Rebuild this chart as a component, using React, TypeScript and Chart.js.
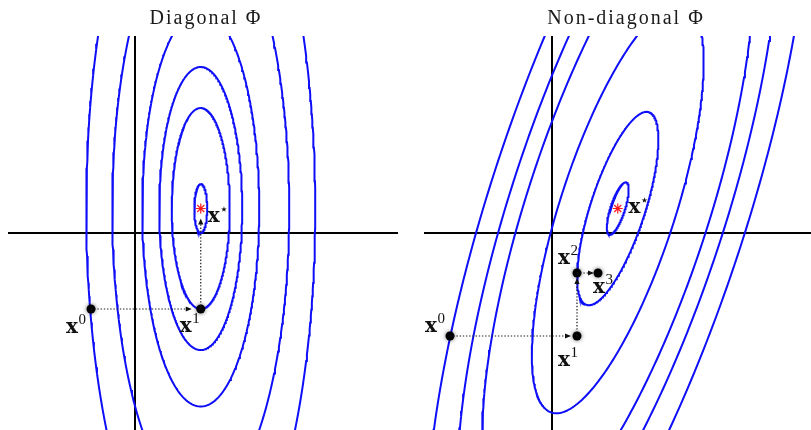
import React, { useEffect, useRef } from "react";
import { Chart, registerables } from "chart.js";

Chart.register(...registerables);

// Minimiser of the quadratic objective (shared by both panels)
const MINIMIZER = [2.63, 0.98];

// Level sets as ellipses: semi-axes in axis units, tilt of the major axis in degrees
const LEFT_SEMI_MAJOR = [0.98, 4.02, 5.66, 7.92, 11.8, 15.6];
const LEFT_SEMI_MINOR = [0.26, 1.16, 1.66, 2.34, 3.54, 4.58];
const LEFT_TILT_DEG = 90;

const RIGHT_SEMI_MAJOR = [1.1, 4.05, 8.58, 13.52, 16.0, 19.1];
const RIGHT_SEMI_MINOR = [0.29, 1.09, 2.3, 3.64, 4.3, 5.14];
const RIGHT_TILT_DEG = 72;

// Coordinate-descent iterates x^0, x^1, ...
const LEFT_ITER_X = [-1.76, 2.63];
const LEFT_ITER_Y = [-3.04, -3.04];
const RIGHT_ITER_X = [-4.08, 1.0, 1.0, 1.84];
const RIGHT_ITER_Y = [-4.12, -4.12, -1.6, -1.6];

const TITLES = ["Diagonal \u03A6", "Non-diagonal \u03A6"];

const CONTOUR_BLUE = "rgb(14,14,248)";

type Label = { sup: string; anchor: number; dx: number; dy: number };

type Panel = {
  title: string;
  titleX: number;
  left: number;
  width: number;
  padLeft: number;
  padRight: number;
  xMin: number;
  xMax: number;
  yMin: number;
  yMax: number;
  major: number[];
  minor: number[];
  tilt: number;
  iterX: number[];
  iterY: number[];
  pathX: number[];
  pathY: number[];
  shorten: number[];
  labels: Label[];
};

function ellipse(cx: number, cy: number, a: number, b: number, deg: number, n = 360) {
  const th = (deg * Math.PI) / 180;
  const c = Math.cos(th);
  const s = Math.sin(th);
  const pts: { x: number; y: number }[] = [];
  for (let i = 0; i <= n; i++) {
    const t = (2 * Math.PI * i) / n;
    const u = a * Math.cos(t);
    const v = b * Math.sin(t);
    pts.push({ x: cx + u * c - v * s, y: cy + u * s + v * c });
  }
  return pts;
}

const PANELS: Panel[] = [
  {
    title: TITLES[0],
    titleX: 206,
    left: 0,
    width: 405,
    padLeft: 8,
    padRight: 7,
    xMin: -5.08,
    xMax: 10.52,
    yMin: -7.88,
    yMax: 7.88,
    major: LEFT_SEMI_MAJOR,
    minor: LEFT_SEMI_MINOR,
    tilt: LEFT_TILT_DEG,
    iterX: LEFT_ITER_X,
    iterY: LEFT_ITER_Y,
    pathX: [...LEFT_ITER_X, MINIMIZER[0]],
    pathY: [...LEFT_ITER_Y, MINIMIZER[1]],
    shorten: [9, 10],
    labels: [
      { sup: "0", anchor: 0, dx: -25, dy: 24 },
      { sup: "1", anchor: 1, dx: -21, dy: 23 },
      { sup: "\u22C6", anchor: -1, dx: 7, dy: 13.5 },
    ],
  },
  {
    title: TITLES[1],
    titleX: 221,
    left: 405,
    width: 406,
    padLeft: 19,
    padRight: 0,
    xMin: -5.12,
    xMax: 10.36,
    yMin: -7.88,
    yMax: 7.88,
    major: RIGHT_SEMI_MAJOR,
    minor: RIGHT_SEMI_MINOR,
    tilt: RIGHT_TILT_DEG,
    iterX: RIGHT_ITER_X,
    iterY: RIGHT_ITER_Y,
    pathX: RIGHT_ITER_X,
    pathY: RIGHT_ITER_Y,
    shorten: [6, 5, 4],
    labels: [
      { sup: "0", anchor: 0, dx: -25, dy: -4 },
      { sup: "1", anchor: 1, dx: -19, dy: 30 },
      { sup: "2", anchor: 2, dx: -19, dy: -9 },
      { sup: "3", anchor: 3, dx: -5, dy: 20 },
      { sup: "\u22C6", anchor: -1, dx: 10.7, dy: 4.5 },
    ],
  },
];

function PanelChart({ panel }: { panel: Panel }) {
  const ref = useRef<HTMLCanvasElement>(null);

  useEffect(() => {
    const canvas = ref.current;
    if (!canvas) return;

    const datasets: any[] = [];
    panel.major.forEach((a, i) => {
      datasets.push({
        label: `level ${i + 1}`,
        data: ellipse(MINIMIZER[0], MINIMIZER[1], a, panel.minor[i], panel.tilt),
        showLine: true,
        borderColor: CONTOUR_BLUE,
        borderWidth: 2,
        pointRadius: 0,
        order: 3,
      });
    });
    datasets.push({
      label: "axis-x",
      data: [
        { x: panel.xMin, y: 0 },
        { x: panel.xMax, y: 0 },
      ],
      showLine: true,
      borderColor: "#000",
      borderWidth: 2,
      pointRadius: 0,
      order: 4,
    });
    datasets.push({
      label: "axis-y",
      data: [
        { x: 0, y: panel.yMin },
        { x: 0, y: panel.yMax },
      ],
      showLine: true,
      borderColor: "#000",
      borderWidth: 2,
      pointRadius: 0,
      order: 4,
    });
    datasets.push({
      label: "iterates",
      data: panel.iterX.map((x, i) => ({ x, y: panel.iterY[i] })),
      showLine: false,
      pointRadius: 4.5,
      pointBackgroundColor: "#000",
      pointBorderColor: "#000",
      pointBorderWidth: 0,
      order: 1,
    });
    datasets.push({
      label: "minimizer",
      data: [{ x: MINIMIZER[0], y: MINIMIZER[1] }],
      showLine: false,
      pointStyle: "star",
      pointRadius: 5,
      pointBorderColor: "#ff1a1a",
      pointBorderWidth: 1.2,
      order: 0,
    });

    const glow = {
      id: "iterateGlow",
      beforeDatasetDraw(chart: any, args: any) {
        if (chart.data.datasets[args.index].label === "iterates") {
          chart.ctx.save();
          chart.ctx.shadowColor = "rgba(0,0,0,0.55)";
          chart.ctx.shadowBlur = 4;
        }
      },
      afterDatasetDraw(chart: any, args: any) {
        if (chart.data.datasets[args.index].label === "iterates") {
          chart.ctx.restore();
        }
      },
    };

    const annotations = {
      id: "annotations",
      afterDatasetsDraw(chart: any) {
        const ctx: CanvasRenderingContext2D = chart.ctx;
        const xs = chart.scales.x;
        const ys = chart.scales.y;

        // dotted steps with arrowheads
        ctx.save();
        for (let i = 0; i < panel.pathX.length - 1; i++) {
          const px = xs.getPixelForValue(panel.pathX[i]);
          const py = ys.getPixelForValue(panel.pathY[i]);
          const qx = xs.getPixelForValue(panel.pathX[i + 1]);
          const qy = ys.getPixelForValue(panel.pathY[i + 1]);
          const len = Math.hypot(qx - px, qy - py);
          const ux = (qx - px) / len;
          const uy = (qy - py) / len;
          const tx = qx - ux * panel.shorten[i];
          const ty = qy - uy * panel.shorten[i];
          const hl = 6;
          const hw = 2.6;
          ctx.strokeStyle = "#1a1a1a";
          ctx.fillStyle = "#111";
          ctx.lineWidth = 1.2;
          ctx.setLineDash([1.4, 1.8]);
          ctx.beginPath();
          ctx.moveTo(px, py);
          ctx.lineTo(tx - ux * hl * 0.8, ty - uy * hl * 0.8);
          ctx.stroke();
          ctx.setLineDash([]);
          ctx.beginPath();
          ctx.moveTo(tx, ty);
          ctx.lineTo(tx - ux * hl - uy * hw, ty - uy * hl + ux * hw);
          ctx.lineTo(tx - ux * hl + uy * hw, ty - uy * hl - ux * hw);
          ctx.closePath();
          ctx.fill();
        }
        ctx.restore();

        // point labels: bold x with superscript
        ctx.save();
        ctx.fillStyle = "#111";
        ctx.textAlign = "left";
        ctx.textBaseline = "alphabetic";
        panel.labels.forEach((lb) => {
          const ax = lb.anchor < 0 ? MINIMIZER[0] : panel.iterX[lb.anchor];
          const ay = lb.anchor < 0 ? MINIMIZER[1] : panel.iterY[lb.anchor];
          const bx = xs.getPixelForValue(ax) + lb.dx;
          const by = ys.getPixelForValue(ay) + lb.dy;
          ctx.font = 'bold 20px "DejaVu Serif"';
          ctx.fillText("x", bx, by);
          const w = ctx.measureText("x").width;
          if (lb.anchor < 0) {
            ctx.font = '15px "DejaVu Sans"';
            ctx.fillText(lb.sup, bx + w - 0.5, by - 8);
          } else {
            ctx.font = '15px "Liberation Serif"';
            ctx.fillText(lb.sup, bx + w + 0.5, by - 9);
          }
        });
        ctx.restore();
      },
      afterDraw(chart: any) {
        const ctx: any = chart.ctx;
        ctx.save();
        ctx.font = '20px "Liberation Serif"';
        ctx.letterSpacing = "2px";
        ctx.fillStyle = "#1a1a1a";
        ctx.textAlign = "center";
        ctx.textBaseline = "alphabetic";
        ctx.fillText(panel.title, panel.titleX, 24);
        ctx.letterSpacing = "0px";
        ctx.restore();
      },
    };

    const chart = new Chart(canvas, {
      type: "scatter",
      data: { datasets },
      options: {
        responsive: false,
        animation: false,
        events: [],
        layout: {
          autoPadding: false,
          padding: { left: panel.padLeft, right: panel.padRight, top: 36, bottom: 0 },
        },
        plugins: {
          legend: { display: false },
          tooltip: { enabled: false },
          title: { display: false },
        },
        scales: {
          x: { type: "linear", min: panel.xMin, max: panel.xMax, display: false },
          y: { type: "linear", min: panel.yMin, max: panel.yMax, display: false },
        },
      },
      plugins: [glow, annotations],
    });

    return () => chart.destroy();
  }, [panel]);

  return (
    <canvas
      ref={ref}
      width={panel.width}
      height={430}
      style={{ position: "absolute", left: panel.left, top: 0, width: panel.width, height: 430 }}
    />
  );
}

export default function App() {
  return (
    <div
      style={{
        position: "absolute",
        left: 0,
        top: 0,
        width: 811,
        height: 430,
        background: "#fff",
        overflow: "hidden",
      }}
    >
      {PANELS.map((p) => (
        <PanelChart key={p.title} panel={p} />
      ))}
    </div>
  );
}
